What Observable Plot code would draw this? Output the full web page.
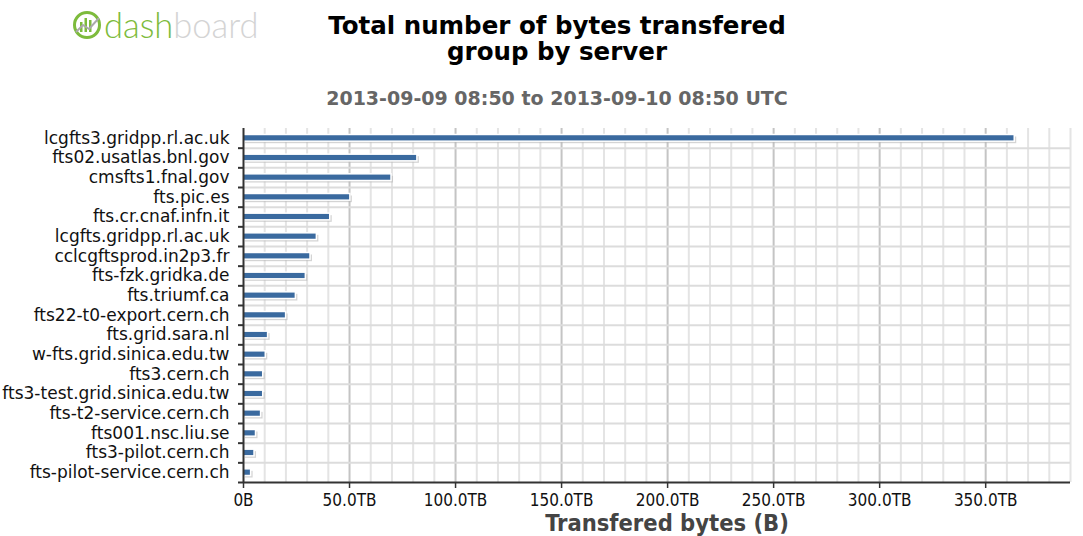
<!DOCTYPE html>
<html>
<head>
<meta charset="utf-8">
<script src="https://cdn.jsdelivr.net/npm/d3@7"></script>
<script src="https://cdn.jsdelivr.net/npm/@observablehq/plot@0.6"></script>
<style>
  html, body { margin: 0; padding: 0; background: #fff; }
  body { width: 1083px; height: 536px; position: relative; overflow: hidden; font-family: "DejaVu Sans", sans-serif; }
  #logo { position: absolute; left: 72px; top: 8px; height: 34px; display: flex; align-items: center; }
  #logo .t { font-family: "Lato", sans-serif; font-weight: 300; font-size: 34.5px; line-height: 1; margin-left: 2px; }
  .title { position: absolute; left: 0; width: 1114px; text-align: center; font-weight: bold; font-size: 24.5px; line-height: 24px; color: #000; }
  #subtitle { position: absolute; left: 0; width: 1114px; top: 89px; text-align: center; font-weight: bold; font-size: 19px; line-height: 19px; color: #666; }
  #chart { position: absolute; left: 0; top: 115px; }
</style>
</head>
<body>
<div id="logo">
  <svg width="30" height="30" viewBox="0 0 30 30">
    <circle cx="15" cy="15" r="12.5" fill="none" stroke="#7dbb3c" stroke-width="3"/>
    <rect x="8" y="12" width="2.5" height="10" fill="#7dbb3c"/>
    <rect x="12.5" y="8" width="2.5" height="14" fill="#7dbb3c"/>
    <rect x="17" y="10" width="2.5" height="12" fill="#7dbb3c"/>
    <polyline points="4,22 11,15 17,19 27,8" fill="none" stroke="#aaa" stroke-width="2"/>
  </svg>
  <span class="t"><span style="color:#7dbb3c">dash</span><span style="color:#d4d4d4">board</span></span>
</div>
<div class="title" style="top:14px">Total number of bytes transfered</div>
<div class="title" style="top:40px">group by server</div>
<div id="subtitle">2013-09-09 08:50 to 2013-09-10 08:50 UTC</div>
<div id="chart"></div>
<script>
const servers = [
  "lcgfts3.gridpp.rl.ac.uk",
  "fts02.usatlas.bnl.gov",
  "cmsfts1.fnal.gov",
  "fts.pic.es",
  "fts.cr.cnaf.infn.it",
  "lcgfts.gridpp.rl.ac.uk",
  "cclcgftsprod.in2p3.fr",
  "fts-fzk.gridka.de",
  "fts.triumf.ca",
  "fts22-t0-export.cern.ch",
  "fts.grid.sara.nl",
  "w-fts.grid.sinica.edu.tw",
  "fts3.cern.ch",
  "fts3-test.grid.sinica.edu.tw",
  "fts-t2-service.cern.ch",
  "fts001.nsc.liu.se",
  "fts3-pilot.cern.ch",
  "fts-pilot-service.cern.ch"
];
// Transferred bytes in TB
const bytesTB = [363.7, 82.0, 69.8, 50.4, 40.9, 34.6, 31.6, 29.4, 24.7, 20.1, 11.6, 10.5, 9.3, 9.3, 8.3, 5.9, 5.2, 3.6];
const xTicks = [0, 50, 100, 150, 200, 250, 300, 350];
const xTickLabel = d => d === 0 ? "0B" : d.toFixed(1) + "TB";
const xLabel = "Transfered bytes (B)";

const data = servers.map((s, i) => ({server: s, i, value: bytesTB[i]}));
const n = servers.length;
const minorX = d3.range(10, 391, 10).filter(v => v % 50 !== 0);
const majorX = d3.range(50, 391, 50);
const rowLines = d3.range(1, n);

const chart = Plot.plot({
  width: 1083,
  height: 421,
  marginLeft: 243,
  marginRight: 13,
  marginTop: 13,
  marginBottom: 54,
  style: {fontFamily: "DejaVu Sans, sans-serif", background: "white", overflow: "visible"},
  x: {type: "linear", domain: [0, 390]},
  y: {type: "linear", domain: [0, n], reverse: true},
  marks: [
    Plot.ruleX(minorX, {stroke: "#e4e4e4", strokeWidth: 2}),
    Plot.ruleX(majorX, {stroke: "#c4c4c4", strokeWidth: 2}),
    Plot.ruleY(rowLines, {stroke: "#dcdcdc", strokeWidth: 2}),
    Plot.rect(data, {x1: 0, x2: "value", y1: d => d.i + 0.33, y2: d => d.i + 0.67, fill: "#b8b8b8", fillOpacity: 0.6, dx: 2, dy: 2}),
    Plot.rect(data, {x1: 0, x2: "value", y1: d => d.i + 0.33, y2: d => d.i + 0.67, fill: "#3a6a9f", stroke: "white", strokeWidth: 1.5}),
    Plot.ruleX([0], {stroke: "#333", strokeWidth: 2}),
    Plot.ruleY([n], {stroke: "#333", strokeWidth: 2}),
    Plot.axisY(d3.range(1, n + 1), {tickSize: 5, tickFormat: () => "", stroke: "#333", strokeWidth: 2, label: null}),
    Plot.axisY(servers.map((s, i) => i + 0.5), {tickSize: 0, tickPadding: 14, tickFormat: d => servers[Math.floor(d)], fontSize: 17, fill: "#111", label: null}),
    Plot.axisX(xTicks, {tickSize: 6, tickPadding: 5, tickFormat: xTickLabel, fontSize: 17, fontFamily: "DejaVu Sans Condensed, DejaVu Sans, sans-serif", fill: "#111", stroke: "#333", strokeWidth: 1.5, label: null}),
    Plot.text([xLabel], {frameAnchor: "bottom", lineAnchor: "middle", dx: 10, dy: 41, fontSize: 23.5, fontWeight: "bold", fontFamily: "DejaVu Sans Condensed, DejaVu Sans, sans-serif", fill: "#444"})
  ]
});
document.getElementById("chart").appendChild(chart);
</script>
</body>
</html>
